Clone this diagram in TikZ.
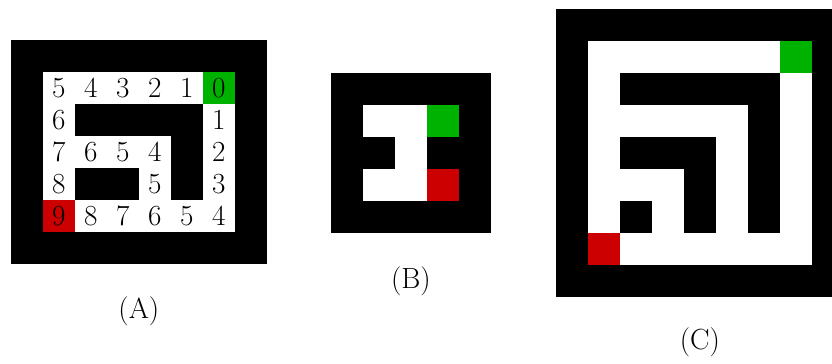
\documentclass[tikz,border=0pt]{standalone}
\usepackage{xcolor}

\definecolor{goalgreen}{RGB}{0,178,0}
\definecolor{startred}{RGB}{204,0,0}

\tikzset{
    wall/.style={fill=black},
    free/.style={fill=white},
    goalcell/.style={fill=goalgreen},
    startcell/.style={fill=startred},
    num/.style={font=\huge, inner sep=0pt},
}

\begin{document}
\begin{tikzpicture}[x=0.8cm, y=0.8cm, every node/.style={font=\huge}]
    \useasboundingbox (0,0) rectangle (26,11.344);

    % maze A: distances to the goal
    \begin{scope}[shift={(0.34,3.09)}]
        \fill[wall] (0,0) rectangle (8,7);
        \fill[free] (1,1) rectangle (7,6);
        \fill[wall] (2,4) rectangle (6,5);
        \fill[wall] (5,2) rectangle (6,4);
        \fill[wall] (2,2) rectangle (4,3);
        \fill[goalcell] (6,5) rectangle (7,6);
        \fill[startcell] (1,1) rectangle (2,2);
        \node[num] (a11) at (1.5,5.5) {5};
        \node[num] (a12) at (2.5,5.5) {4};
        \node[num] (a13) at (3.5,5.5) {3};
        \node[num] (a14) at (4.5,5.5) {2};
        \node[num] (a15) at (5.5,5.5) {1};
        \node[num] (a16) at (6.5,5.5) {0};
        \node[num] (a21) at (1.5,4.5) {6};
        \node[num] (a26) at (6.5,4.5) {1};
        \node[num] (a31) at (1.5,3.5) {7};
        \node[num] (a32) at (2.5,3.5) {6};
        \node[num] (a33) at (3.5,3.5) {5};
        \node[num] (a34) at (4.5,3.5) {4};
        \node[num] (a36) at (6.5,3.5) {2};
        \node[num] (a41) at (1.5,2.5) {8};
        \node[num] (a44) at (4.5,2.5) {5};
        \node[num] (a46) at (6.5,2.5) {3};
        \node[num] (a51) at (1.5,1.5) {9};
        \node[num] (a52) at (2.5,1.5) {8};
        \node[num] (a53) at (3.5,1.5) {7};
        \node[num] (a54) at (4.5,1.5) {6};
        \node[num] (a55) at (5.5,1.5) {5};
        \node[num] (a56) at (6.5,1.5) {4};
        \node (capA) at (4,-1.47) {(A)};
    \end{scope}

    % maze B: small
    \begin{scope}[shift={(10.34,4.06)}]
        \fill[wall] (0,0) rectangle (5,5);
        \fill[free] (1,1) rectangle (4,4);
        \fill[wall] (1,2) rectangle (2,3);
        \fill[wall] (3,2) rectangle (4,3);
        \fill[goalcell] (3,3) rectangle (4,4);
        \fill[startcell] (3,1) rectangle (4,2);
        \node (capB) at (2.5,-1.5) {(B)};
    \end{scope}

    % maze C: spiral
    \begin{scope}[shift={(17.37,2.07)}]
        \fill[wall] (0,0) rectangle (9,9);
        \fill[free] (1,1) rectangle (8,8);
        \fill[wall] (2,6) rectangle (7,7);
        \fill[wall] (6,2) rectangle (7,6);
        \fill[wall] (2,4) rectangle (5,5);
        \fill[wall] (4,2) rectangle (5,4);
        \fill[wall] (2,2) rectangle (3,3);
        \fill[goalcell] (7,7) rectangle (8,8);
        \fill[startcell] (1,1) rectangle (2,2);
        \node (capC) at (4.5,-1.41) {(C)};
    \end{scope}
\end{tikzpicture}
\end{document}
